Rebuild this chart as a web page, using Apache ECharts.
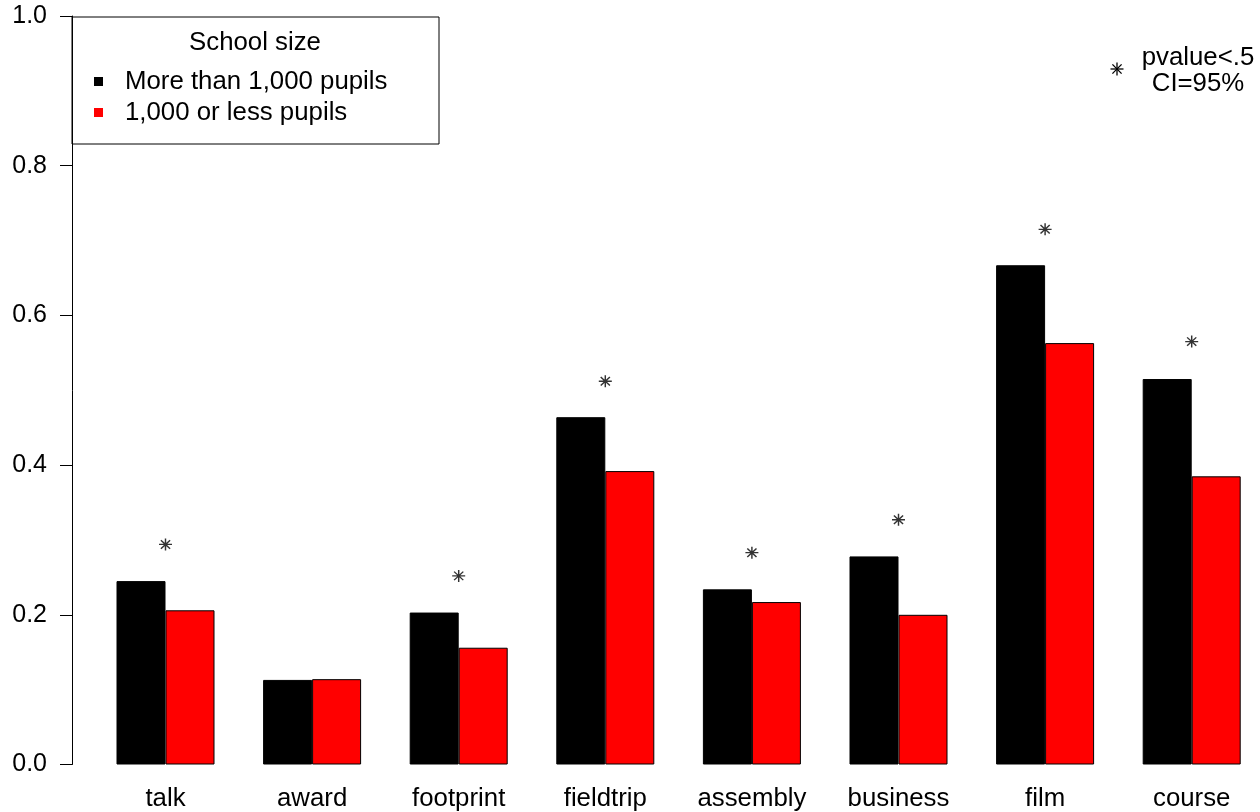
<!DOCTYPE html>
<html>
<head>
<meta charset="utf-8">
<title>School size</title>
<script src="https://cdn.jsdelivr.net/npm/echarts@6/dist/echarts.min.js"></script>
<style>
  html, body { margin: 0; padding: 0; background: #fff; }
  #chart { width: 1260px; height: 812px; }
</style>
</head>
<body>
<div id="chart"></div>
<script>
// Activity categories along the x axis
const categories = ['talk', 'award', 'footprint', 'fieldtrip', 'assembly', 'business', 'film', 'course'];

// Share of schools per group
const largeSchools = [0.245, 0.113, 0.203, 0.464, 0.234, 0.278, 0.667, 0.515];
const smallSchools = [0.206, 0.114, 0.156, 0.392, 0.217, 0.200, 0.563, 0.385];

// Significance markers (null where no marker is drawn)
const sigMarks = [0.294, null, 0.252, 0.512, 0.283, 0.327, 0.715, 0.565];

// Y axis ticks
const yTicks = [0.0, 0.2, 0.4, 0.6, 0.8, 1.0];

const seriesNames = ['More than 1,000 pupils', '1,000 or less pupils'];
const legendTitle = 'School size';
const noteLines = ['pvalue<.5', 'CI=95%'];

const FONT = '"Liberation Sans", Arial, Helvetica, sans-serif';
const FS = 25;      // numeric tick labels
const FS_TXT = 25.8; // category labels and legend text
const STAR = 'path://M6,0L6,12M0,6L12,6M1.76,1.76L10.24,10.24M1.76,10.24L10.24,1.76';

// Eight-armed star built from four line segments, centred at (cx, cy)
function starLines(cx, cy, r) {
  const d = r * Math.SQRT1_2;
  const segs = [[0, -r, 0, r], [-r, 0, r, 0], [-d, -d, d, d], [-d, d, d, -d]];
  return segs.map(s => ({
    type: 'line',
    shape: { x1: cx + s[0], y1: cy + s[1], x2: cx + s[2], y2: cy + s[3] },
    style: { stroke: '#000', lineWidth: 1.3 },
    silent: true
  }));
}

const chart = echarts.init(document.getElementById('chart'), null, { renderer: 'canvas' });

chart.setOption({
  animation: false,
  backgroundColor: '#ffffff',
  textStyle: { fontFamily: FONT },
  grid: { left: 92.2, width: 1172.8, top: 16, bottom: 47.5, containLabel: false, outerBoundsMode: 'none' },
  xAxis: {
    type: 'category',
    data: categories,
    axisLine: { show: false },
    axisTick: { show: false },
    axisLabel: { color: '#000', fontSize: FS_TXT, fontFamily: FONT, margin: 21, interval: 0 },
    splitLine: { show: false }
  },
  yAxis: {
    type: 'value',
    min: yTicks[0],
    max: yTicks[yTicks.length - 1],
    interval: 0.2,
    offset: 20.2,
    axisLine: { show: true, lineStyle: { color: '#000', width: 1 } },
    axisTick: { show: true, length: 12, lineStyle: { color: '#000', width: 1 } },
    axisLabel: {
      color: '#000', fontSize: FS, fontFamily: FONT, margin: 25,
      formatter: v => v.toFixed(1)
    },
    splitLine: { show: false }
  },
  legend: {
    data: seriesNames,
    orient: 'vertical',
    left: 94,
    top: 68.5,
    padding: 0,
    itemGap: 5,
    icon: 'rect',
    itemWidth: 9,
    itemHeight: 9,
    itemStyle: { borderWidth: 0 },
    textStyle: { color: '#000', fontSize: FS_TXT, fontFamily: FONT, lineHeight: 26, padding: [0, 0, 0, 17] }
  },
  series: [
    {
      name: seriesNames[0],
      type: 'bar',
      data: largeSchools,
      barWidth: 49,
      barGap: '0%',
      itemStyle: { color: '#000000', borderColor: '#000', borderWidth: 1 }
    },
    {
      name: seriesNames[1],
      type: 'bar',
      data: smallSchools,
      barWidth: 49,
      barGap: '0%',
      itemStyle: { color: '#ff0000', borderColor: '#000', borderWidth: 1 }
    },
    {
      name: 'sig',
      type: 'scatter',
      data: sigMarks.map((v, i) => [i, v]).filter(p => p[1] !== null),
      symbol: STAR,
      symbolSize: [13, 12],
      itemStyle: { color: 'transparent', borderColor: '#000', borderWidth: 1.4 },
      z: 5
    }
  ],
  graphic: [
    {
      type: 'rect',
      shape: { x: 72, y: 17, width: 367, height: 127 },
      style: { fill: null, stroke: '#000', lineWidth: 1 },
      silent: true
    },
    {
      type: 'text',
      x: 255, y: 43,
      style: { text: legendTitle, fill: '#000', font: FS_TXT + 'px ' + FONT, textAlign: 'center', textVerticalAlign: 'middle' },
      silent: true
    },
    ...starLines(1117, 69, 6.5),
    {
      type: 'text',
      x: 1198, y: 58,
      style: { text: noteLines[0], fill: '#000', font: FS_TXT + 'px ' + FONT, textAlign: 'center', textVerticalAlign: 'middle' },
      silent: true
    },
    {
      type: 'text',
      x: 1198, y: 84,
      style: { text: noteLines[1], fill: '#000', font: FS_TXT + 'px ' + FONT, textAlign: 'center', textVerticalAlign: 'middle' },
      silent: true
    }
  ]
});
</script>
</body>
</html>
